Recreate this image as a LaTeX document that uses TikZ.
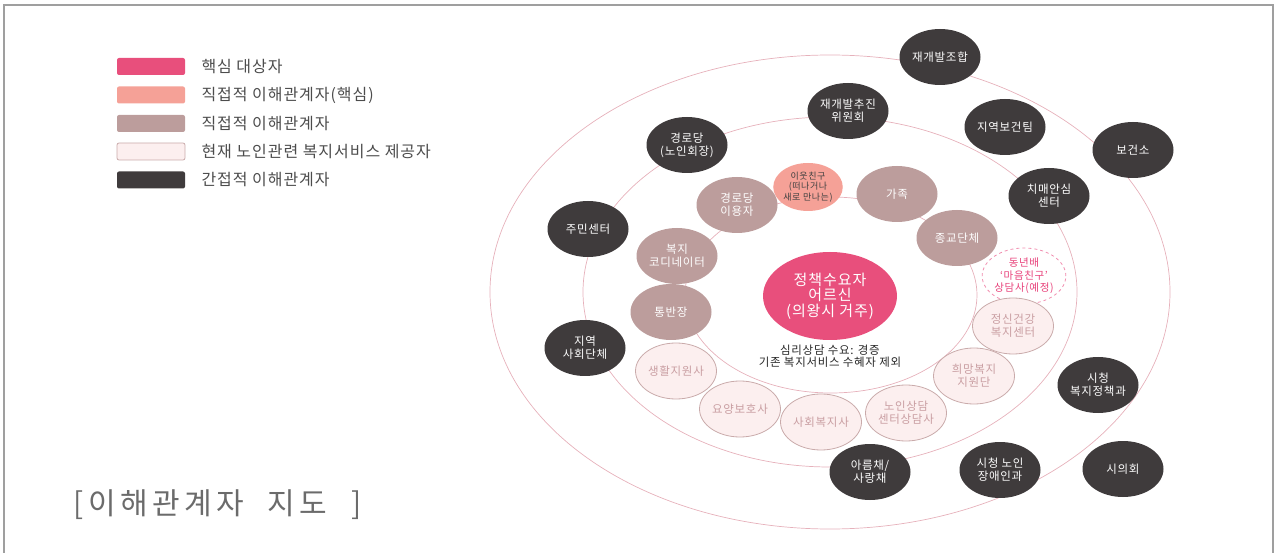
\documentclass[tikz,border=0pt]{standalone}
\usepackage{fontspec}
\setmainfont[LetterSpace=6]{Noto Sans CJK KR}
\newfontfamily\titlefont[LetterSpace=15]{Noto Sans CJK KR}
\usetikzlibrary{shapes.geometric}

\definecolor{corepink}{HTML}{E84F7C}
\definecolor{salmon}{HTML}{F5A197}
\definecolor{rosebrown}{HTML}{BC9D9C}
\definecolor{paleFill}{HTML}{FCEFEF}
\definecolor{paleLine}{HTML}{C9AAAA}
\definecolor{paleText}{HTML}{C99EA2}
\definecolor{darknode}{HTML}{3F3B3C}
\definecolor{ringline}{HTML}{E6B1BB}
\definecolor{dashpink}{HTML}{E8417A}

\tikzset{stake/.style = {ellipse, inner sep = 0, minimum width = 81pt, minimum height = 56pt, align = center, font = \fontsize{11.5}{13}\selectfont}}
\tikzset{indirect/.style = {stake, fill = darknode, text = white}}
\tikzset{direct/.style = {stake, fill = rosebrown, text = white}}
\tikzset{provider/.style = {stake, fill = paleFill, draw = paleLine, line width = 0.8pt, text = paleText}}
\tikzset{ring/.style = {draw = ringline, line width = 0.7pt}}
\tikzset{legbox/.style = {rounded corners = 2pt, minimum width = 68pt, minimum height = 17pt, inner sep = 0}}
\tikzset{legtext/.style = {anchor = west, text = black!70, font = \fontsize{16}{17}\selectfont}}

\begin{document}
\begin{tikzpicture}[x=1pt, y=-1pt]
  \useasboundingbox (0,0) rectangle (1275,553);
  \draw [gray!75, line width = 1.5pt] (4,553) -- (4,5) -- (1273,5) -- (1273,553);

  % legend
  \node [legbox, fill = corepink] (lgCore) at (151,66.5) {};
  \node [legbox, fill = salmon] (lgKey) at (151,95) {};
  \node [legbox, fill = rosebrown] (lgDirect) at (151,123.5) {};
  \node [legbox, fill = paleFill, draw = paleLine, line width = 0.8pt] (lgProv) at (151,151.5) {};
  \node [legbox, fill = darknode] (lgIndirect) at (151,180) {};
  \node [legtext] at (198,66.5) {핵심 대상자};
  \node [legtext] at (198,95) {직접적 이해관계자(핵심)};
  \node [legtext] at (198,123.5) {직접적 이해관계자};
  \node [legtext] at (198,151.5) {현재 노인관련 복지서비스 제공자};
  \node [legtext] at (198,180) {간접적 이해관계자};

  \node [anchor = west, text = black!58, font = \titlefont\fontsize{30}{32}\selectfont] (title) at (70,505) {[이해관계자\hspace{12pt} 지도\hspace{24pt}]};

  % rings
  \draw [ring] (830,292) ellipse [x radius = 340pt, y radius = 237pt];
  \draw [ring] (830,292) ellipse [x radius = 247pt, y radius = 175pt];
  \draw [ring] (831,295) ellipse [x radius = 146pt, y radius = 98pt];

  % core
  \node [ellipse, fill = corepink, text = white, minimum width = 134pt, minimum height = 88pt, inner sep = 0, align = center, font = \fontsize{15}{15.5}\selectfont] (core) at (830,296) {정책수요자\\어르신\\(의왕시 거주)};
  \node [align = center, text = black!85, font = \fontsize{11.5}{12.5}\selectfont] (note) at (830,356) {심리상담 수요: 경증\\기존 복지서비스 수혜자 제외};

  % direct stakeholders
  \node [stake, fill = salmon, text = black!75, minimum width = 67pt, minimum height = 48pt, font = \fontsize{9}{10.5}\selectfont] (neighbor) at (808,187) {이웃친구\\(떠나거나\\새로 만나는)};
  \node [direct] (family) at (897,194) {가족};
  \node [direct] (religion) at (957,238) {종교단체};
  \node [direct] (hallUser) at (737,205) {경로당\\이용자};
  \node [direct] (coordinator) at (677,256) {복지\\코디네이터};
  \node [direct] (tongban) at (671,312) {통반장};

  % providers
  \node [stake, fill = white, draw = dashpink!60, dashed, line width = 0.8pt, text = dashpink, font = \fontsize{10.5}{12.5}\selectfont] (peer) at (1024,276) {동년배\\‘마음친구’\\상담사(예정)};
  \node [provider] (mental) at (1013,326) {정신건강\\복지센터};
  \node [provider] (hope) at (974,376) {희망복지\\지원단};
  \node [provider] (counsel) at (906,413) {노인상담\\센터상담사};
  \node [provider] (social) at (821,422) {사회복지사};
  \node [provider] (care) at (740,409) {요양보호사};
  \node [provider] (life) at (676,371) {생활지원사};

  % indirect stakeholders
  \node [indirect] (redevUnion) at (940,57) {재개발조합};
  \node [indirect] (redevComm) at (848,111) {재개발추진\\위원회};
  \node [indirect] (seniorHall) at (687,145) {경로당\\(노인회장)};
  \node [indirect] (healthTeam) at (1005,127) {지역보건팀};
  \node [indirect] (healthCtr) at (1133,150) {보건소};
  \node [indirect] (dementia) at (1049,196) {치매안심\\센터};
  \node [indirect] (commCtr) at (588,229) {주민센터};
  \node [indirect] (civic) at (585,348) {지역\\사회단체};
  \node [indirect] (welfarePol) at (1098,385) {시청\\복지정책과};
  \node [indirect] (areum) at (870,472) {아름채/\\사랑채};
  \node [indirect] (elderDiv) at (1000,470) {시청 노인\\장애인과};
  \node [indirect] (council) at (1123,469) {시의회};
\end{tikzpicture}
\end{document}
